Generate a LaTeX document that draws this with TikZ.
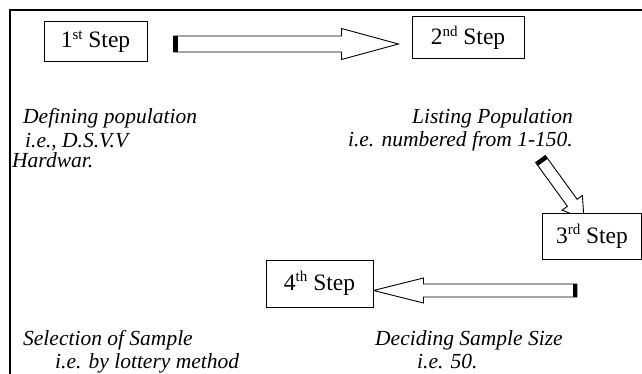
\documentclass[tikz,border=0pt]{standalone}
\usepackage{fontspec}
\setmainfont{Liberation Serif}
\usetikzlibrary{calc,backgrounds}

\newcommand\ordsup[1]{\raisebox{8.5pt}{\fontsize{15}{15}\selectfont #1}}

\tikzset{
    stepbox/.style={draw,line width=1pt,fill=white,inner sep=0pt,font=\fontsize{23.5}{28}\selectfont},
    note/.style={inner sep=0pt,font=\fontsize{21.5}{26}\selectfont\itshape},
    blockarrow/.style={draw,fill=white,line width=.9pt,line join=miter},
}

% #1 tail, #2 tip, #3 half shaft, #4 half head, #5 head length
\newcommand\blockarrow[5]{%
    \coordinate (ba-b) at ($(#2)!#5!(#1)$);
    \coordinate (ba-k) at ($(#1)!4pt!(#2)$);
    \draw[blockarrow] ($(#1)!#3!90:(#2)$)--($(ba-b)!#3!90:(#2)$)--($(ba-b)!#4!90:(#2)$)--(#2)
        --($(ba-b)!#4!-90:(#2)$)--($(ba-b)!#3!-90:(#2)$)--($(#1)!#3!-90:(#2)$)--cycle;
    \fill ($(#1)!#3!90:(#2)$)--($(ba-k)!#3!90:(#2)$)--($(ba-k)!#3!-90:(#2)$)--($(#1)!#3!-90:(#2)$)--cycle;
}

\begin{document}
\begin{tikzpicture}[x=1pt,y=-1pt]
    \useasboundingbox (0,0) rectangle (642,374);
    \draw[line width=2.4pt] (10,380)--(10,10)--(650,10);

    \node[stepbox,minimum width=103pt,minimum height=40pt] (step1) at (95.5,42) {1\ordsup{st} Step};
    \node[stepbox,minimum width=112pt,minimum height=42pt] (step2) at (468,38) {2\ordsup{nd} Step};
    \node[stepbox,anchor=north west,minimum height=46pt,inner xsep=13.5pt] (step3) at (542,213) {\makebox[72pt][l]{3\ordsup{rd} Step}};
    \node[stepbox,minimum width=107pt,minimum height=47pt] (step4) at (319.5,283.5) {4\ordsup{th} Step};

    \node[note,anchor=base west] (def1) at (23,124) {Defining population};
    \node[note,anchor=base west] (def2) at (25,148) {i.e., D.S.V.V};
    \node[note,anchor=base west] (def3) at (12,167.5) {Hardwar.};
    \node[note,anchor=base east] (list1) at (573,124) {Listing Population};
    \node[note,anchor=base east] (list2) at (573,147) {i.e. numbered from 1-150.};
    \node[note,anchor=base west] (sel1) at (23,345) {Selection of Sample};
    \node[note,anchor=base west] (sel2) at (55,368) {i.e. by lottery method};
    \node[note,anchor=base west] (size1) at (375,345) {Deciding Sample Size};
    \node[note,anchor=base west] (size2) at (417,368) {i.e. 50.};

    \begin{scope}[on background layer]
        \coordinate (a1t) at ($(step1.east)+(26,2)$);
        \coordinate (a1h) at ($(step2.west)+(-13,6)$);
        \coordinate (a3t) at (540.5,159);
        \coordinate (a3h) at ($(step3.north west)+(42,6)$);
        \coordinate (a4t) at (577,290.5);
        \coordinate (a4h) at ($(step4.east)+(0,7)$);
        \blockarrow{a1t}{a1h}{8pt}{15.5pt}{57pt}
        \blockarrow{a3t}{a3h}{6pt}{12.5pt}{20pt}
        \blockarrow{a4t}{a4h}{6.5pt}{12.5pt}{50pt}
    \end{scope}
\end{tikzpicture}
\end{document}
